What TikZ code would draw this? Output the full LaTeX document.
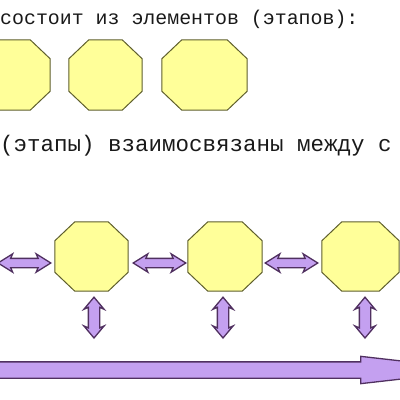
\documentclass[tikz,border=0pt]{standalone}
\usepackage{fontspec}
\setmainfont{Liberation Mono}
\usetikzlibrary{shapes.arrows,calc}

\definecolor{stagefill}{RGB}{255,255,153}
\definecolor{stageline}{RGB}{95,95,45}
\definecolor{linkfill}{RGB}{196,160,240}
\definecolor{linkline}{RGB}{80,48,96}
\definecolor{textgray}{RGB}{25,25,25}

\tikzset{
  stage/.style={rectangle, inner sep=0pt, minimum width=73pt, minimum height=70pt},
  stageshape/.style={draw=stageline, fill=stagefill, line width=1pt, line join=round},
  arrowbody/.style={draw=linkline, fill=linkfill, line width=1.3pt, inner sep=0pt},
  harrow/.style={arrowbody, double arrow, inner ysep=4pt, double arrow head extend=4.5pt,
    double arrow tip angle=64, double arrow head indent=2pt},
  varrow/.style={arrowbody, double arrow, inner ysep=5pt, double arrow head extend=4.5pt,
    double arrow tip angle=80, double arrow head indent=2pt},
  tarrow/.style={arrowbody, single arrow, inner ysep=7.5pt, single arrow head extend=5.5pt,
    single arrow tip angle=13, single arrow head indent=0pt},
  fatlink/.style={to path={let \p1=($(\tikztotarget)-(\tikztostart)$) in
    node[#1, minimum height={veclen(\x1,\y1)}, rotate={atan2(\y1,\x1)}]
    at ($(\tikztostart)!.5!(\tikztotarget)$) {}}},
  timelink/.style={to path={let \p1=($(\tikztotarget)-(\tikztostart)$) in
    node[tarrow, anchor=tail, minimum height={veclen(\x1,\y1)}, rotate={atan2(\y1,\x1)}]
    at (\tikztostart) {}}},
  caption/.style={anchor=base west, inner sep=0pt, text=textgray}
}

\begin{document}
\begin{tikzpicture}[x=1pt,y=-1pt]
  \useasboundingbox (0,0) rectangle (400,400);
  \clip (0,0) rectangle (400,400);

  % text lines
  \node[caption, font=\fontsize{19.9}{22}\selectfont] (line1) at (0,24)
    {состоит из элементов (этапов):};
  \node[caption, font=\fontsize{22.5}{26}\selectfont] (line2) at (0,151)
    {(этапы) взаимосвязаны между с};

  % separate stages
  \node[stage] (a1) at (13.5,75) {};
  \node[stage] (a2) at (105.5,75) {};
  \node[stage, minimum width=85pt] (a3) at (204.5,75) {};

  % linked stages
  \node[stage, minimum height=69pt] (b1) at (91.5,256.5) {};
  \node[stage, minimum width=74pt, minimum height=69pt] (b2) at (225,256.5) {};
  \node[stage, minimum width=77pt, minimum height=69pt] (b3) at (360.5,256.5) {};

  \foreach \s in {a1,a2,a3,b1,b2,b3}
    \draw[stageshape] ([xshift=20pt]\s.north west) -- ([xshift=-20pt]\s.north east)
      -- ([yshift=-19pt]\s.north east) -- ([yshift=19pt]\s.south east)
      -- ([xshift=-20pt]\s.south east) -- ([xshift=20pt]\s.south west)
      -- ([yshift=19pt]\s.south west) -- ([yshift=-19pt]\s.north west) -- cycle;

  \coordinate (h0) at (-2,263);
  \draw (h0) to[fatlink=harrow] ([shift={(-4,6.5)}]b1.west);
  \draw ([shift={(5,6.5)}]b1.east) to[fatlink=harrow] ([shift={(-2,6.5)}]b2.west);
  \draw ([shift={(3,6.5)}]b2.east) to[fatlink=harrow] ([shift={(-4,6.5)}]b3.west);

  \coordinate (v1) at (94,338);
  \coordinate (v2) at (223,338);
  \coordinate (v3) at (365,338);
  \draw ($(b1.south -| v1)+(0,6)$) to[fatlink=varrow] (v1);
  \draw ($(b2.south -| v2)+(0,6)$) to[fatlink=varrow] (v2);
  \draw ($(b3.south -| v3)+(0,6)$) to[fatlink=varrow] (v3);

  % time line
  \coordinate (t0) at (-8,370);
  \coordinate (t1) at (480,370);
  \draw (t0) to[timelink] (t1);
\end{tikzpicture}
\end{document}
